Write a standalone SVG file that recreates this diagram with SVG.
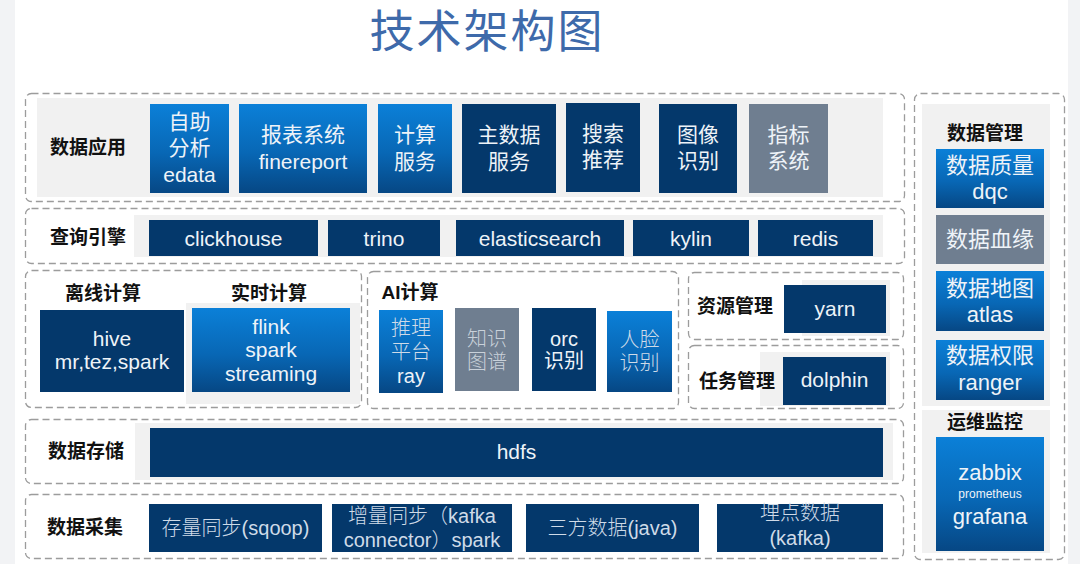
<svg xmlns="http://www.w3.org/2000/svg" width="1080" height="564" viewBox="0 0 1080 564">
<defs>
<linearGradient id="gBlue" x1="0" y1="0" x2="0" y2="1">
<stop offset="0" stop-color="#0b80d8"/>
<stop offset="0.55" stop-color="#0867b5"/>
<stop offset="1" stop-color="#064784"/>
</linearGradient>
<style>
.dash{fill:none;stroke:#9c9c9c;stroke-width:1.3;stroke-dasharray:7 4}
.fillg{fill:#f1f1f1}
.navy{fill:#04386b}
.grad{fill:url(#gBlue)}
.gray{fill:#6f7e90}
.t{font-family:"Liberation Sans","Noto Sans CJK SC",sans-serif;fill:#eef3f8;text-anchor:middle;dominant-baseline:central;font-size:21px}
.ts{font-family:"Liberation Sans","Noto Sans CJK SC",sans-serif;fill:#cfdbe8;text-anchor:middle;dominant-baseline:central;font-size:20px;font-weight:300}
.lbl{font-family:"Liberation Sans","Noto Sans CJK SC",sans-serif;fill:#111;text-anchor:middle;dominant-baseline:central;font-size:19px;font-weight:700}
.title{font-family:"Liberation Sans","Noto Sans CJK SC",sans-serif;fill:#3e6aaa;text-anchor:middle;font-size:45px;font-weight:400;letter-spacing:2px}
</style>
</defs>
<rect x="0" y="0" width="1080" height="564" fill="#ffffff"/>
<rect x="0" y="0" width="15" height="564" fill="#f2f3f5"/>
<rect x="1068" y="0" width="12" height="564" fill="#f2f3f5"/>
<text class="title" x="487" y="48">技术架构图</text>

<!-- Row 1: 数据应用 -->
<g id="row-app">
<rect class="dash" x="25.5" y="93.5" width="879" height="108" rx="6"/>
<rect class="fillg" x="37" y="98" width="846" height="99"/>
<text class="lbl" x="88" y="147">数据应用</text>
</g>
<g id="n-zizhu"><rect class="grad" x="150" y="104" width="79" height="89"/>
<text class="t" x="189.5" y="121">自助</text><text class="t" x="189.5" y="147">分析</text><text class="t" x="189.5" y="174">edata</text></g>
<g id="n-baobiao"><rect class="grad" x="239" y="104" width="128" height="89"/>
<text class="t" x="303" y="134">报表系统</text><text class="t" x="303" y="161">finereport</text></g>
<g id="n-jisuan"><rect class="grad" x="378" y="104" width="74" height="89"/>
<text class="t" x="415" y="134">计算</text><text class="t" x="415" y="161">服务</text></g>
<g id="n-zhushuju"><rect class="navy" x="462" y="104" width="94" height="89"/>
<text class="t" x="509" y="134">主数据</text><text class="t" x="509" y="161">服务</text></g>
<g id="n-sousuo"><rect class="navy" x="566" y="103" width="74" height="89"/>
<text class="t" x="603" y="133">搜索</text><text class="t" x="603" y="159">推荐</text></g>
<g id="n-tuxiang"><rect class="navy" x="659" y="104" width="78" height="89"/>
<text class="t" x="698" y="134">图像</text><text class="t" x="698" y="160">识别</text></g>
<g id="n-zhibiao"><rect class="gray" x="749" y="104" width="79" height="89"/>
<text class="t" x="788.5" y="134">指标</text><text class="t" x="788.5" y="160">系统</text></g>

<!-- Row 2: 查询引擎 -->
<g id="row-query">
<rect class="dash" x="25.5" y="208.5" width="879" height="55" rx="6"/>
<rect class="fillg" x="134" y="215" width="749" height="42"/>
<text class="lbl" x="88" y="237">查询引擎</text>
</g>
<g id="n-clickhouse"><rect class="navy" x="149" y="220" width="169" height="36"/><text class="t" x="233.5" y="238">clickhouse</text></g>
<g id="n-trino"><rect class="navy" x="328" y="220" width="112" height="36"/><text class="t" x="384" y="238">trino</text></g>
<g id="n-es"><rect class="navy" x="456" y="220" width="168" height="36"/><text class="t" x="540" y="238">elasticsearch</text></g>
<g id="n-kylin"><rect class="navy" x="633" y="220" width="116" height="36"/><text class="t" x="691" y="238">kylin</text></g>
<g id="n-redis"><rect class="navy" x="758" y="220" width="115" height="36"/><text class="t" x="815.5" y="238">redis</text></g>

<!-- Row 3 left: 离线/实时计算 -->
<g id="row-compute">
<rect class="dash" x="25.5" y="270.5" width="336" height="137" rx="6"/>
<rect class="fillg" x="186" y="303" width="174" height="101"/>
<text class="lbl" x="103" y="293">离线计算</text>
<text class="lbl" x="269" y="293">实时计算</text>
</g>
<g id="n-hive"><rect class="navy" x="40" y="310" width="144" height="82"/>
<text class="t" x="112" y="338">hive</text><text class="t" x="112" y="361">mr,tez,spark</text></g>
<g id="n-flink"><rect class="grad" x="192" y="308" width="158" height="84"/>
<text class="t" x="271" y="326">flink</text><text class="t" x="271" y="349">spark</text><text class="t" x="271" y="373">streaming</text></g>

<!-- Row 3 AI -->
<g id="row-ai">
<rect class="dash" x="367.5" y="271.5" width="311" height="137" rx="6"/>
<text class="lbl" x="410" y="292">AI计算</text>
</g>
<g id="n-tuili"><rect class="grad" x="379" y="310" width="64" height="83"/>
<text class="ts" x="411" y="328">推理</text><text class="ts" x="411" y="352">平台</text><text class="t" x="411" y="376" style="font-size:20px">ray</text></g>
<g id="n-zhishi"><rect class="gray" x="455" y="308" width="64" height="83"/>
<text class="ts" x="487" y="339" style="fill:#c9d1da">知识</text><text class="ts" x="487" y="362" style="fill:#c9d1da">图谱</text></g>
<g id="n-orc"><rect class="navy" x="532" y="308" width="64" height="83"/>
<text class="t" x="564" y="339" style="font-size:20px">orc</text><text class="t" x="564" y="361" style="font-size:20px">识别</text></g>
<g id="n-renlian"><rect class="grad" x="607" y="311" width="65" height="81"/>
<text class="ts" x="639.5" y="340">人脸</text><text class="ts" x="639.5" y="363">识别</text></g>

<!-- 资源管理 -->
<g id="row-resource">
<rect class="dash" x="688.5" y="272.5" width="215" height="67" rx="6"/>
<rect class="fillg" x="802" y="280" width="88" height="56"/>
<text class="lbl" x="735" y="306">资源管理</text>
</g>
<g id="n-yarn"><rect class="navy" x="784" y="285" width="102" height="48"/><text class="t" x="835" y="308">yarn</text></g>

<!-- 任务管理 -->
<g id="row-task">
<rect class="dash" x="688.5" y="345.5" width="215" height="63" rx="6"/>
<rect class="fillg" x="760" y="352" width="130" height="54"/>
<text class="lbl" x="737" y="381">任务管理</text>
</g>
<g id="n-dolphin"><rect class="navy" x="783" y="357" width="103" height="48"/><text class="t" x="834.5" y="379">dolphin</text></g>

<!-- Row 4: 数据存储 -->
<g id="row-storage">
<rect class="dash" x="25.5" y="419.5" width="878" height="64" rx="6"/>
<rect class="fillg" x="135" y="423" width="758" height="57"/>
<text class="lbl" x="86" y="451">数据存储</text>
</g>
<g id="n-hdfs"><rect class="navy" x="150" y="428" width="733" height="49"/><text class="t" x="516.5" y="451">hdfs</text></g>

<!-- Row 5: 数据采集 -->
<g id="row-collect">
<rect class="dash" x="25.5" y="494.5" width="878" height="64" rx="6"/>
<text class="lbl" x="85" y="527">数据采集</text>
</g>
<g id="n-sqoop"><rect class="navy" x="149" y="504" width="173" height="48"/><text class="ts" x="235.5" y="528">存量同步(sqoop)</text></g>
<g id="n-kafka-conn"><rect class="navy" x="332" y="504" width="180" height="48"/>
<text class="ts" x="422" y="516">增量同步（kafka</text><text class="ts" x="422" y="540">connector）spark</text></g>
<g id="n-java"><rect class="navy" x="526" y="504" width="173" height="48"/><text class="ts" x="612.5" y="528">三方数据(java)</text></g>
<g id="n-maidian"><rect class="navy" x="717" y="504" width="166" height="48"/>
<text class="ts" x="800" y="513">埋点数据</text><text class="ts" x="800" y="538">(kafka)</text></g>

<!-- Right panel -->
<g id="panel-right">
<rect class="dash" x="914.5" y="93.5" width="150" height="466" rx="6"/>
<rect class="fillg" x="922" y="104" width="128" height="302"/>
<rect class="fillg" x="922" y="410" width="128" height="143"/>
<text class="lbl" x="985" y="133">数据管理</text>
<text class="lbl" x="985" y="422">运维监控</text>
</g>
<g id="n-dqc"><rect class="grad" x="936" y="149" width="108" height="59"/>
<text class="t" x="990" y="165" style="font-size:22px">数据质量</text><text class="t" x="990" y="191" style="font-size:22px">dqc</text></g>
<g id="n-xueyuan"><rect class="gray" x="936" y="215" width="108" height="49"/>
<text class="t" x="990" y="239" style="font-size:22px">数据血缘</text></g>
<g id="n-atlas"><rect class="grad" x="936" y="271" width="108" height="60"/>
<text class="t" x="990" y="288" style="font-size:22px">数据地图</text><text class="t" x="990" y="314" style="font-size:22px">atlas</text></g>
<g id="n-ranger"><rect class="grad" x="936" y="340" width="108" height="60"/>
<text class="t" x="990" y="355" style="font-size:22px">数据权限</text><text class="t" x="990" y="382" style="font-size:22px">ranger</text></g>
<g id="n-monitor"><rect class="grad" x="936" y="437" width="108" height="114"/>
<text class="t" x="990" y="472" style="font-size:22px">zabbix</text>
<text class="t" x="990" y="494" style="font-size:12px">prometheus</text>
<text class="t" x="990" y="516" style="font-size:22px">grafana</text></g>
</svg>
